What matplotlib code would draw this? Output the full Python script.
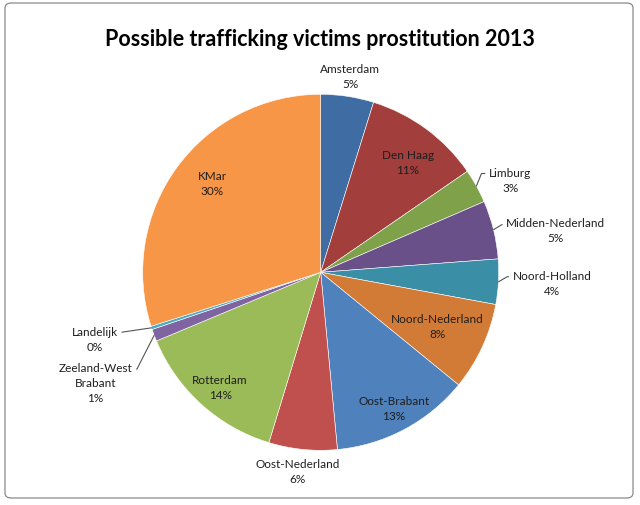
import matplotlib.pyplot as plt
import numpy as np
from matplotlib.patches import FancyBboxPatch

# region and share of possible victims (percent)
regions = ['Amsterdam', 'Den Haag', 'Limburg', 'Midden-Nederland', 'Noord-Holland',
           'Noord-Nederland', 'Oost-Brabant', 'Oost-Nederland', 'Rotterdam',
           'Zeeland-West\nBrabant', 'Landelijk', 'KMar']
shares = [4.8, 10.6, 3.1, 5.3, 4.1, 8.0, 12.6, 6.2, 14.0, 1.1, 0.3, 29.9]
colors = ['#3F6DA3', '#A23E3B', '#7FA14A', '#6A5089', '#3A8EA6', '#D27B36',
          '#4F81BD', '#C0504D', '#9BBB59', '#8064A2', '#4BACC6', '#F79646']

# label placement in pie units (radius 1)
label_pos = {
    'Amsterdam': (0.165, 1.105),
    'Den Haag': (0.49, 0.62),
    'Limburg': (1.065, 0.52),
    'Midden-Nederland': (1.32, 0.24),
    'Noord-Holland': (1.30, -0.06),
    'Noord-Nederland': (0.655, -0.30),
    'Oost-Brabant': (0.41, -0.76),
    'Oost-Nederland': (-0.13, -1.115),
    'Rotterdam': (-0.565, -0.645),
    'Zeeland-West\nBrabant': (-1.265, -0.62),
    'Landelijk': (-1.27, -0.375),
    'KMar': (-0.61, 0.50),
}
# leader lines: relpos on text box, angle of the slanted part (None = straight)
leaders = {
    'Limburg': ((0.0, 0.74), 68),
    'Midden-Nederland': ((0.0, 0.74), 31),
    'Noord-Holland': ((0.0, 0.74), 30),
    'Zeeland-West\nBrabant': ((1.0, 0.83), 63),
    'Landelijk': ((1.0, 0.74), None),
}

fig = plt.figure(figsize=(6.4, 5.06), dpi=100)
ax = fig.add_axes([0, 0, 1, 1])

wedges, _ = ax.pie(shares, colors=colors, startangle=90, counterclock=False,
                   radius=1, center=(0, 0), frame=True,
                   wedgeprops=dict(edgecolor='white', linewidth=0.4))
ax.set_xlim(-320.7 / 178, (640 - 320.7) / 178)
ax.set_ylim((273.3 - 506) / 178, 273.3 / 178)
ax.set_aspect('auto')
ax.axis('off')

fnt = 'Lato'
for w, name, val in zip(wedges, regions, shares):
    txt = f'{name}\n{round(val)}%'
    tx, ty = label_pos[name]
    if name in leaders:
        rel, ang = leaders[name]
        cs = 'arc3' if ang is None else f'angle,angleA=0,angleB={ang},rad=0'
        mid = np.deg2rad((w.theta1 + w.theta2) / 2)
        ax.annotate(txt, xy=(np.cos(mid), np.sin(mid)), xytext=(tx, ty),
                    ha='center', va='center', fontsize=8.5, family=fnt,
                    color='#1e1e1e', linespacing=1.45,
                    arrowprops=dict(arrowstyle='-', color='#555555', lw=0.8,
                                    shrinkA=1, shrinkB=0, relpos=rel,
                                    connectionstyle=cs))
    else:
        ax.text(tx, ty, txt, ha='center', va='center', fontsize=8.5, family=fnt,
                color='#1e1e1e', linespacing=1.45)

fig.text(0.5, 1 - 40 / 506, 'Possible trafficking victims prostitution 2013',
         ha='center', va='center', fontsize=15.5, fontweight='bold', family=fnt)

border = FancyBboxPatch((5 / 640, 1 - 499 / 506), 628 / 640, 495 / 506,
                        boxstyle='round,pad=0,rounding_size=0.01',
                        transform=fig.transFigure, fill=False,
                        edgecolor='#8a8a8a', linewidth=0.9)
fig.patches.append(border)

fig.savefig('out.png', dpi=100)
